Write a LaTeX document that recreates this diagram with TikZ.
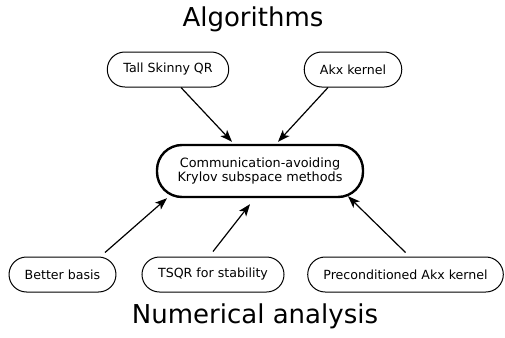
\documentclass[tikz,border=0pt]{standalone}
\usepackage{fontspec}
\setmainfont{DejaVu Sans}
\usetikzlibrary{shapes,arrows,positioning,calc,arrows.meta}

\begin{document}
\begin{tikzpicture}[
    x=1pt, y=-1pt,
    block/.style={rounded rectangle, draw, line width=1pt, minimum height=35pt, inner xsep=15pt, font=\fontsize{12.6}{13.5}\selectfont},
    core/.style={rectangle, rounded corners=25pt, draw, line width=2.4pt, minimum width=206pt, minimum height=52pt, align=center, font=\fontsize{12.8}{13.5}\selectfont},
    title/.style={anchor=base, font=\fontsize{26}{28}\selectfont},
    link/.style={line width=1.2pt, -{Stealth[length=12pt,width=9pt,inset=3pt]}}
]
    \useasboundingbox (0,0) rectangle (505,337);

    \node[title] (ALG) at (253,27) {Algorithms};
    \node[title] (NUM) at (255,323) {Numerical analysis};

    \node[core] (CAKSM) at (260,171) {Communication-avoiding\\Krylov subspace methods};

    % top row
    \node[block] (TSQR) at (168,69.5) {Tall Skinny QR};
    \node[block] (AKX) at (353,69.5) {Akx kernel};

    % bottom row
    \node[block] (BASIS) at (62.5,274.5) {Better basis};
    \node[block] (TSQRS) at (213,274.5) {TSQR for stability};
    \node[block] (PAKX) at (405.5,274.5) {Preconditioned Akx kernel};

    \draw[link] ([xshift=13pt]TSQR.south) -- ([xshift=-28pt,yshift=2pt]CAKSM.north);
    \draw[link] ([xshift=-25pt]AKX.south) -- ([xshift=18pt,yshift=2pt]CAKSM.north);
    \draw[link] ([xshift=42.5pt,yshift=4pt]BASIS.north) -- ([xshift=-93pt]CAKSM.south);
    \draw[link] ([yshift=5pt]TSQRS.north) -- ([xshift=-10pt,yshift=-6pt]CAKSM.south);
    \draw[link] ([yshift=4pt]PAKX.north) -- ([xshift=88pt,yshift=2pt]CAKSM.south);

\end{tikzpicture}
\end{document}
